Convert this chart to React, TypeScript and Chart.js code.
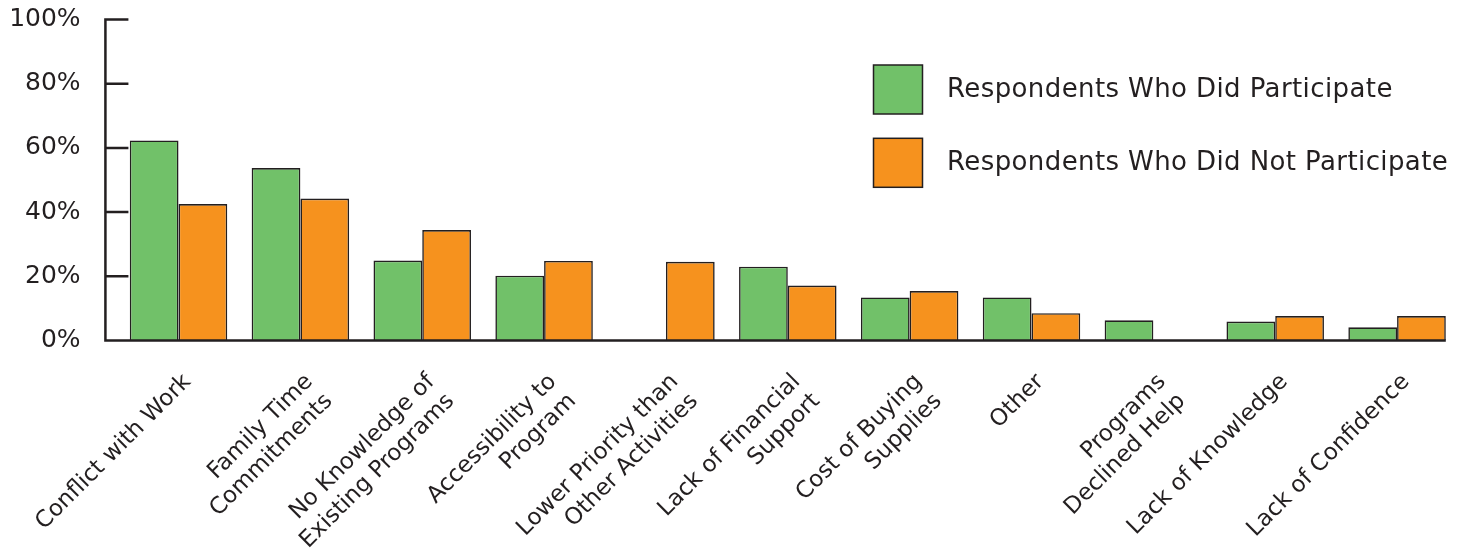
import React, { useEffect, useRef } from "react";
import { Chart, registerables } from "chart.js";

Chart.register(...registerables);

// Reasons given for not taking part, by respondent group (percent of respondents)
const categories: string[][] = [
  ["Conflict with Work"],
  ["Family Time", "Commitments"],
  ["No Knowledge of", "Existing Programs"],
  ["Accessibility to", "Program"],
  ["Lower Priority than", "Other Activities"],
  ["Lack of Financial", "Support"],
  ["Cost of Buying", "Supplies"],
  ["Other"],
  ["Programs", "Declined Help"],
  ["Lack of Knowledge"],
  ["Lack of Confidence"],
];

const participated: number[] = [62.3, 53.7, 24.9, 20.2, 0, 23.0, 13.4, 13.4, 6.3, 5.9, 4.1];
const notParticipated: number[] = [42.5, 44.2, 34.4, 24.8, 24.5, 17.1, 15.4, 8.5, 0, 7.6, 7.6];

const seriesLabels: string[] = [
  "Respondents Who Did Participate",
  "Respondents Who Did Not Participate",
];

const yTicks: number[] = [0, 20, 40, 60, 80, 100];

const GREEN = "#71c169";
const ORANGE = "#f6921e";
const INK = "#231f20";
const FONT = "'DejaVu Sans', Verdana, sans-serif";

// Axis lines and inward tick marks, shifted left by the half gap between groups
const axesPlugin = {
  id: "axesLines",
  afterDatasetsDraw(chart: any) {
    const { ctx, chartArea, scales } = chart;
    const y = scales.y;
    const band = (chartArea.right - chartArea.left) / categories.length;
    const shift = band * 0.1;
    const left = chartArea.left - shift;
    const right = chartArea.right - shift;
    const base = y.getPixelForValue(0);
    const top = y.getPixelForValue(100);
    ctx.save();
    ctx.strokeStyle = INK;
    ctx.lineWidth = 2.5;
    ctx.lineCap = "butt";
    ctx.beginPath();
    ctx.moveTo(left, top - 1.2);
    ctx.lineTo(left, base + 1.2);
    ctx.moveTo(left - 1.2, base);
    ctx.lineTo(right, base);
    yTicks.forEach((v) => {
      if (v === 0) return;
      const py = y.getPixelForValue(v);
      ctx.moveTo(left, py);
      ctx.lineTo(left + 23, py);
    });
    ctx.stroke();
    ctx.restore();
  },
};

// Legend with large swatches inside the plot area
const legendPlugin = {
  id: "boxLegend",
  afterDraw(chart: any) {
    const { ctx } = chart;
    const colors = [GREEN, ORANGE];
    ctx.save();
    seriesLabels.forEach((label, i) => {
      const bx = 873.5;
      const by = 65 + i * 73.3;
      ctx.fillStyle = colors[i];
      ctx.fillRect(bx, by, 49, 49);
      ctx.strokeStyle = INK;
      ctx.lineWidth = 1.5;
      ctx.strokeRect(bx, by, 49, 49);
      ctx.fillStyle = INK;
      ctx.font = `26px ${FONT}`;
      (ctx as any).letterSpacing = "0.4px";
      ctx.textAlign = "left";
      ctx.textBaseline = "middle";
      ctx.fillText(label, 947, by + 25);
    });
    ctx.restore();
  },
};

export default function App() {
  const canvasRef = useRef<HTMLCanvasElement | null>(null);

  useEffect(() => {
    if (!canvasRef.current) return;
    const chart = new Chart(canvasRef.current, {
      type: "bar",
      data: {
        labels: categories,
        datasets: [
          {
            label: seriesLabels[0],
            data: participated,
            backgroundColor: GREEN,
            borderColor: INK,
            borderWidth: 1.6,
            borderSkipped: "bottom",
          },
          {
            label: seriesLabels[1],
            data: notParticipated,
            backgroundColor: ORANGE,
            borderColor: INK,
            borderWidth: 1.6,
            borderSkipped: "bottom",
          },
        ],
      },
      options: {
        animation: false,
        responsive: true,
        maintainAspectRatio: false,
        datasets: {
          bar: { categoryPercentage: 0.8, barPercentage: 1.0 },
        },
        layout: { padding: { top: 19.5, right: 5, left: 0, bottom: 0 } },
        plugins: {
          legend: { display: false },
          tooltip: { enabled: false },
        },
        scales: {
          x: {
            grid: {
              display: true,
              drawOnChartArea: false,
              drawTicks: true,
              tickLength: 28,
              color: "rgba(0,0,0,0)",
            },
            border: { display: false },
            ticks: {
              autoSkip: false,
              maxRotation: 45,
              minRotation: 45,
              padding: 0,
              labelOffset: 9,
              color: INK,
              font: { family: FONT, size: 23, lineHeight: 1.2 },
            },
            afterFit: (scale: any) => {
              scale.height = 207.5;
            },
          },
          y: {
            min: 0,
            max: 100,
            grid: {
              display: true,
              drawOnChartArea: false,
              drawTicks: true,
              tickLength: 37,
              color: "rgba(0,0,0,0)",
            },
            border: { display: false },
            afterBuildTicks: (scale: any) => {
              scale.ticks = yTicks.map((v) => ({ value: v }));
            },
            ticks: {
              padding: 0,
              color: INK,
              font: { family: FONT, size: 25 },
              callback: (v: any) => `${v}%`,
            },
            afterFit: (scale: any) => {
              scale.width = 117.6;
            },
          },
        },
      },
      plugins: [axesPlugin, legendPlugin],
    });
    return () => chart.destroy();
  }, []);

  return (
    <div style={{ position: "fixed", left: 0, top: 0, width: 1463, height: 548, background: "#fff" }}>
      <canvas ref={canvasRef} />
    </div>
  );
}
